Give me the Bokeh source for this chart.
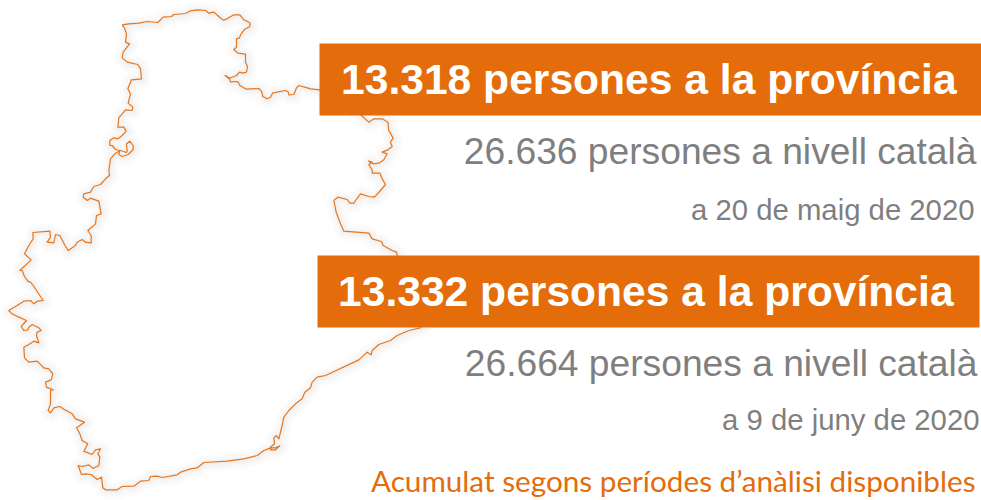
from bokeh.plotting import figure
from bokeh.models import Range1d
from bokeh.core.properties import value
from bokeh.embed import file_html
from bokeh.resources import INLINE

# Province outline (pixels of the reference) in four runs
z1 = [(365,73),(385,70),(415,68),(440,63),(472,66),(488,50),(513,48),(520,42),(555,39),(570,31),(590,28),(615,30),(625,38),(640,35),(655,48),(668,59),(680,55),(700,43),(718,43),(730,58),(748,67),(748,78),(733,86),(720,103),(717,112),(708,115),(708,140),(700,147),(712,158),(735,161),(735,185),(741,198),(738,215),(727,218),(717,215),(708,225),(685,234),(674,225),(686,232),(690,244),(712,243),(718,255),(738,266),(775,264),(783,272),(787,288),(800,295),(810,290),(817,277),(855,270),(863,274),(865,283),(880,282),(888,262),(895,255),(920,262),(930,265),(957,268)]
z4a = [(183,165),(205,185),(220,175),(245,175),(262,185),(265,210),(278,233),(270,245),(275,258),(262,268),(245,275),(260,280),(250,298),(235,308),(218,310),(204,302),(215,305),(205,312),(215,328),(215,338),(238,338),(245,355),(255,372),(240,390),(222,410),(205,408),(180,400),(165,420),(160,428),(148,428),(140,417),(112,410),(100,420),(107,455),(120,490),(130,512),(205,518),(215,535),(243,543),(248,555),(275,570),(288,575),(290,585)]
z4b = [(360,802),(325,810),(290,825),(270,840),(235,852),(215,870),(212,883),(200,875),(175,898)]
z3 = [(975,135),(950,140),(935,155),(930,172),(913,185),(905,205),(885,220),(865,240),(850,260),(845,285),(835,325),(828,315),(820,322),(822,340),(810,350),(810,358),(825,358),(838,346),(825,352),(810,352),(790,360),(770,375),(730,385),(680,392),(610,396),(600,404),(590,412),(570,415),(540,425),(530,433),(485,441),(470,437),(450,438),(445,450),(420,452),(400,467),(365,468),(350,478),(315,478),(307,472),(303,440),(290,447),(272,432),(255,430),(243,432),(233,405),(245,408),(265,403),(278,414),(295,405),(298,380),(292,370),(300,355),(285,358),(275,372),(250,362),(262,340),(245,330),(238,310),(228,292),(252,275),(225,265),(215,250),(190,236),(178,228),(160,232),(150,247),(143,240),(150,220),(150,180),(158,178),(138,170),(135,155),(152,148),(157,130),(145,115),(130,112),(110,92),(85,95),(72,82),(70,50),(85,42),(100,32),(115,37),(108,15),(110,5)]
z2 = [(122,480),(115,472),(95,462),(85,470),(82,478),(70,480),(62,468),(78,450),(55,440),(35,430),(25,420),(45,408),(70,392),(90,390),(100,400),(110,392),(128,390),(98,345),(90,335),(82,332),(72,318),(65,300),(58,300),(92,268),(72,250),(85,225),(98,205),(97,186),(148,182),(150,200),(140,215),(160,217),(165,192),(178,195),(192,222),(203,240),(225,225),(230,215),(245,207),(255,215),(272,217),(272,195),(262,180),(285,160),(288,135),(302,130),(295,92),(270,83),(260,90),(248,80),(250,70),(270,65),(280,48),(300,42),(315,25),(327,15),(325,0)]
z1b = [(330,475),(345,458),(360,450),(378,456),(380,450),(378,430),(388,422),(398,435),(398,447),(383,462),(365,468),(355,462),(358,450),(345,447),(335,435),(328,435),(328,420),(340,412),(352,415),(365,405),(377,392),(370,380),(352,380),(355,352),(375,328),(395,330),(397,320),(383,308),(390,280),(382,265),(393,238),(423,235),(420,205),(412,192),(380,185),(365,172),(368,155),(387,130),(375,125),(378,100),(372,82),(365,73)]

map_x = ([a/3 for a,_ in z1] + [300+a/3 for a,_ in z4a] + [300+a/3 for a,_ in z4b] + [a/3 for a,_ in z3]
         + [a/3 for a,_ in z2] + [a/3 for a,_ in z1b])
map_y = ([b/3 for _,b in z1] + [60+b/3 for _,b in z4a] + [60+b/3 for _,b in z4b] + [330+b/3 for _,b in z3]
         + [170+b/3 for _,b in z2] + [b/3 for _,b in z1b])

box_labels = ["13.318 persones a la província", "13.332 persones a la província"]
box_left = [319, 317]
box_right = [981, 979]
box_top = [43, 255]
box_bottom = [115, 327]
box_text_x = [340.5, 337.5]
box_text_y = [78.5, 290.5]

mid_labels = ["26.636 persones a nivell català", "26.664 persones a nivell català"]
mid_x = [976, 977]
mid_y = [150.5, 362]

date_labels = ["a 20 de maig de 2020", "a 9 de juny de 2020"]
date_x = [974, 979]
date_y = [209, 419]

note_label = ["Acumulat segons períodes d’anàlisi disponibles"]
note_x = [975]
note_y = [480]

p = figure(width=981, height=500, output_backend="svg", toolbar_location=None,
           x_range=Range1d(0, 981), y_range=Range1d(500, 0), min_border=0)
p.axis.visible = False
p.grid.visible = False
p.outline_line_color = None
p.background_fill_color = "white"

# soft shadow of the outline
for w, a in [(18, 0.012), (13, 0.012), (8, 0.014), (4, 0.016)]:
    p.line([x + 1 for x in map_x], [y + 1 for y in map_y], line_color="#000000", line_width=w,
           line_alpha=a, line_join="round")
p.line(map_x, map_y, line_color="#E8761C", line_width=1.2, line_join="round")

p.quad(left=box_left, right=box_right, top=box_top, bottom=box_bottom, fill_color="#E46C0A", line_color=None)

p.text(box_text_x, box_text_y, text=box_labels, text_color="white", text_font=value("Liberation Sans"),
       text_font_style="bold", text_font_size="42.6px", text_align="left", text_baseline="alphabetic")
p.text(mid_x, mid_y, text=mid_labels, text_color="#7F7F7F", text_font=value("Liberation Sans"),
       text_font_size="37.2px", text_align="right", text_baseline="alphabetic")
p.text(date_x, date_y, text=date_labels, text_color="#7F7F7F", text_font=value("Liberation Sans"),
       text_font_size="29.3px", text_align="right", text_baseline="alphabetic")
p.text(note_x, note_y, text=note_label, text_color="#E46C0A", text_font=value("Lato"),
       text_font_size="29.7px", text_align="right", text_baseline="alphabetic")

open("out.html", "w").write(file_html(p, INLINE))
